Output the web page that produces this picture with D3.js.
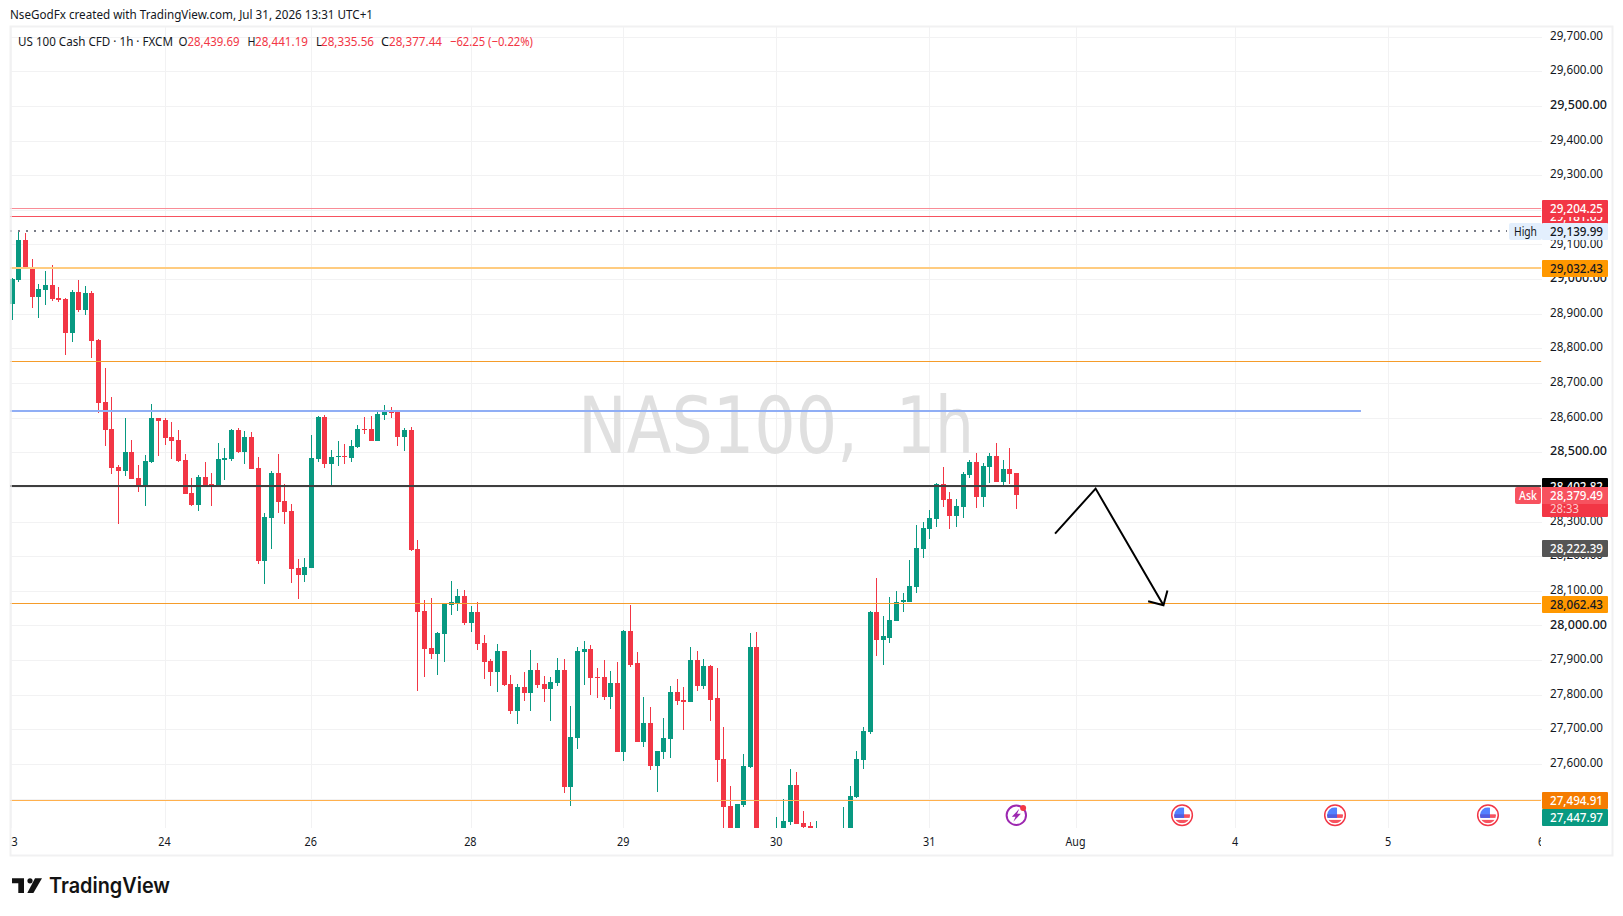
<!DOCTYPE html>
<html>
<head>
<meta charset="utf-8">
<title>NAS100, 1h</title>
<script src="https://cdn.jsdelivr.net/npm/d3@7"></script>
<style>
  html, body { margin: 0; padding: 0; background: #fff; }
  svg { display: block; }
  text { font-family: "Noto Sans", sans-serif; }
</style>
</head>
<body>
<div id="wrapper"></div>
<script>
// hourly bars. Bars under the bottom edge of the plot are estimates
const opens = [28929,28998,29114,29036,28949,28969,28984,28946,28943,28845,28963,28911,28960,28824,28645,28567,28457,28445,28500,28425,28402,28472,28599,28593,28544,28535,28477,28382,28347,28428,28408,28405,28477,28480,28564,28500,28544,28454,28185,28310,28440,28359,28330,28165,28145,28165,28480,28602,28466,28486,28489,28483,28515,28567,28567,28532,28607,28619,28616,28544,28564,28220,28043,27936,27916,27974,28058,28064,28084,28006,28038,27948,27896,27864,27925,27832,27754,27821,27806,27870,27832,27815,27835,27870,27534,27676,27922,27933,27850,27850,27792,27835,27635,27983,27890,27664,27719,27595,27635,27673,27809,27786,27780,27899,27826,27884,27789,27615,27479,27390,27482,27592,27939,27360,27340,27370,27395,27433,27540,27430,27421,27380,27390,27370,27375,27385,27400,27505,27612,27693,28040,27959,27965,28014,28067,28069,28110,28220,28278,28307,28408,28364,28315,28341,28434,28472,28370,28457,28489,28414,28451,28440];
const highs = [29003,29140,29134,29059,28986,29024,29041,28978,28946,28969,28998,28981,28966,28827,28743,28660,28463,28599,28535,28463,28492,28639,28599,28599,28587,28564,28495,28425,28434,28472,28440,28526,28512,28567,28570,28561,28558,28486,28324,28445,28495,28408,28350,28191,28194,28550,28605,28607,28506,28532,28524,28535,28579,28602,28605,28622,28636,28631,28619,28570,28573,28246,28072,28078,27980,28064,28127,28104,28101,28055,28069,27971,27904,27945,27925,27858,27832,27864,27928,27890,27855,27850,27907,27904,27766,27939,27954,27942,27876,27899,27867,27893,27986,28058,27922,27792,27763,27638,27734,27824,27844,27821,27939,27925,27904,27887,27876,27708,27537,27485,27630,27977,27980,27400,27405,27447,27499,27586,27578,27465,27433,27436,27405,27410,27416,27476,27537,27636,27708,28043,28136,28026,28081,28098,28095,28188,28289,28298,28333,28410,28457,28385,28364,28443,28477,28498,28469,28498,28526,28477,28512,28441];
const lows = [28882,28992,29033,28917,28888,28926,28937,28934,28781,28819,28905,28897,28772,28613,28518,28437,28292,28431,28422,28385,28344,28469,28489,28521,28480,28472,28379,28344,28330,28405,28344,28402,28419,28474,28498,28466,28451,28176,28119,28220,28324,28292,28121,28075,28124,28165,28472,28454,28399,28460,28466,28472,28512,28552,28532,28532,28593,28599,28518,28503,28214,27812,27852,27902,27858,27893,28029,28043,28000,27980,27928,27844,27826,27809,27826,27745,27714,27783,27754,27818,27780,27725,27824,27517,27479,27644,27829,27800,27789,27786,27760,27635,27609,27881,27664,27650,27583,27520,27615,27618,27771,27699,27780,27812,27815,27725,27549,27390,27370,27370,27476,27589,27330,27320,27320,27350,27380,27424,27427,27405,27380,27370,27350,27350,27360,27370,27390,27502,27586,27685,27913,27887,27948,28014,28040,28069,28095,28194,28249,28283,28341,28278,28283,28309,28425,28338,28341,28411,28414,28405,28408,28336];
const closes = [29001,29114,29033,28949,28972,28984,28943,28940,28845,28963,28911,28960,28821,28642,28564,28454,28445,28500,28422,28405,28474,28599,28590,28541,28532,28474,28379,28347,28428,28405,28405,28480,28483,28564,28500,28544,28451,28185,28312,28440,28356,28327,28162,28145,28168,28483,28602,28466,28486,28489,28486,28518,28567,28564,28532,28610,28619,28613,28544,28564,28217,28040,27933,27916,27977,28061,28067,28084,28006,28038,27945,27893,27864,27925,27829,27754,27821,27806,27870,27829,27815,27838,27870,27534,27679,27925,27933,27847,27847,27792,27835,27635,27983,27887,27664,27719,27595,27638,27676,27809,27783,27780,27899,27826,27884,27786,27612,27476,27395,27485,27595,27939,27350,27340,27380,27405,27436,27540,27427,27419,27395,27405,27370,27390,27400,27410,27508,27615,27696,28040,27959,27968,28017,28069,28072,28113,28223,28281,28309,28408,28362,28315,28344,28437,28472,28370,28460,28489,28414,28451,28437,28377];

const priceTicks = [29700,29600,29500,29400,29300,29200,29100,29000,28900,28800,28700,28600,28500,28400,28300,28200,28100,28000,27900,27800,27700,27600,27500];
const timeTicks = [0,23,45,69,92,115,138,160,184,207,230];
const timeLabels = ["23","24","26","28","29","30","31","Aug","4","5","6"];

// horizontal levels: price, colour, stroke width, last bar index it reaches
const levelPrices = [29204.25,29181.65,29032.43,28762,28619,28402.82,28062.43,27494.91];
const levelColors = ["#f98c96","#f7525f","#ffcc80","#f59c2a","#90aef5","#3f3f3f","#f59c2a","#ffb04d"];
const levelWidths = [1,1,2,1,2,2,1,1];
const levelEnds = [230,230,230,230,202.9,230,230,230];
const highPrice = 29139.99;

// hand drawn arrow, bar index / price
const arrowX = [156.9,163,173.2];
const arrowY = [28265,28395,28058];
const arrowHeadX = [170.9,173.2,173.8];
const arrowHeadY = [28069.5,28058,28101];

const tagPrices = [29181.65,29204.25,29139.99,29032.43,28402.82,28222.39,28062.43,27494.91,27447.97];
const tagFills = ["#f23645","#f23645","#e3effd","#ff9800","#000000","#555555","#ff9800","#f57c00","#089981"];
const tagInks = ["#fff","#fff","#131722","#131722","#fff","#fff","#131722","#fff","#fff"];

const legendTexts = ["O","28,439.69","H","28,441.19","L","28,335.56","C","28,377.44","\u221262.25 (\u22120.22%)"];
const legendX = [178.5,187.5,247.5,255,316,321,381,389,450];
const legendLen = [9,52,8,53,6,53,8,53,83];
const legendRed = [false,true,false,true,false,true,false,true,true];

const flagBars = [176,199,222]; // calendar markers on the time line

const dimensions = { width: 1623, height: 916, left: 10, right: 1542, top: 27, bottom: 828 };
const green = "#089981";
const red = "#f23645";
const tagRow = p => Math.round(yScale(p)) - 8;

const wrapper = d3.select("#wrapper").append("svg")
  .attr("width", dimensions.width)
  .attr("height", dimensions.height);

const xScale = d3.scaleLinear().domain([0, 230]).range([11.67, 11.67 + 230 * 6.65]);
const yScale = d3.scaleLinear().domain([29000, 28000]).range([279.1, 625.4]);

const defs = wrapper.append("defs");
defs.append("clipPath").attr("id", "plot").append("rect")
  .attr("x", dimensions.left).attr("y", dimensions.top)
  .attr("width", dimensions.right - dimensions.left)
  .attr("height", dimensions.bottom - dimensions.top);
defs.append("clipPath").attr("id", "timeClip").append("rect")
  .attr("x", 11).attr("y", dimensions.bottom)
  .attr("width", 1530).attr("height", 26);

// frame
wrapper.append("rect")
  .attr("x", 10.5).attr("y", 26.5).attr("width", 1602).attr("height", 829)
  .attr("fill", "none").attr("stroke", "#f1f1f2").attr("stroke-width", 2);

// grid
const xGrid = wrapper.append("g")
  .attr("transform", `translate(0,${dimensions.bottom})`)
  .call(d3.axisBottom(xScale).tickValues(timeTicks).tickSize(-(dimensions.bottom - dimensions.top)).tickFormat(""));
const yGrid = wrapper.append("g")
  .attr("transform", `translate(${dimensions.left},0)`)
  .call(d3.axisRight(yScale).tickValues(priceTicks).tickSize(dimensions.right - dimensions.left).tickFormat(""));
[xGrid, yGrid].forEach(g => {
  g.select(".domain").remove();
  g.selectAll("line").attr("stroke", "#f2f2f3").attr("shape-rendering", "crispEdges");
});
xGrid.selectAll(".tick").filter(d => d === 0 || d === 230).remove();

// watermark, in two pieces because of the wide gap after the comma
const watermarkTexts = ["NAS100,", "1h"];
const watermarkX = [578, 896];
const watermarkLen = [280, 78];
wrapper.selectAll(".watermark")
  .data(watermarkTexts)
  .enter().append("text")
  .attr("class", "watermark")
  .attr("x", (d, i) => watermarkX[i])
  .attr("y", 453)
  .attr("font-size", 78)
  .attr("textLength", (d, i) => watermarkLen[i])
  .attr("lengthAdjust", "spacingAndGlyphs")
  .attr("fill", "#e0e0e0")
  .style("font-family", "'DejaVu Sans', sans-serif")
  .text(d => d);

const plot = wrapper.append("g").attr("clip-path", "url(#plot)");

// candles
const bars = d3.range(opens.length);
plot.selectAll(".wick")
  .data(bars)
  .enter().append("rect")
  .attr("class", "wick")
  .attr("x", i => Math.round(xScale(i)))
  .attr("y", i => yScale(highs[i]))
  .attr("width", 1)
  .attr("height", i => yScale(lows[i]) - yScale(highs[i]))
  .attr("fill", i => closes[i] >= opens[i] ? green : red)
  .attr("shape-rendering", "crispEdges");
plot.selectAll(".body")
  .data(bars)
  .enter().append("rect")
  .attr("class", "body")
  .attr("x", i => Math.round(xScale(i)) - 2)
  .attr("y", i => yScale(Math.max(opens[i], closes[i])))
  .attr("width", 5)
  .attr("height", i => Math.max(1, Math.abs(yScale(opens[i]) - yScale(closes[i]))))
  .attr("fill", i => closes[i] >= opens[i] ? green : red)
  .attr("shape-rendering", "crispEdges");

// levels: odd widths sit on a pixel row, even ones between rows
const levelRow = (d, i) => levelWidths[i] === 2 ? Math.round(yScale(d)) : Math.floor(yScale(d)) + 0.5;
plot.selectAll(".level")
  .data(levelPrices)
  .enter().append("line")
  .attr("class", "level")
  .attr("x1", dimensions.left)
  .attr("x2", (d, i) => xScale(levelEnds[i]))
  .attr("y1", levelRow)
  .attr("y2", levelRow)
  .attr("stroke", (d, i) => levelColors[i])
  .attr("stroke-width", (d, i) => levelWidths[i]);

// session high, dotted
plot.append("line")
  .attr("x1", dimensions.left).attr("x2", 1507)
  .attr("y1", Math.round(yScale(highPrice))).attr("y2", Math.round(yScale(highPrice)))
  .attr("stroke", "#787b86")
  .attr("stroke-width", 2)
  .attr("stroke-dasharray", "2 6");

// arrow
const arrowLine = d3.line().x(d => xScale(d[0])).y(d => yScale(d[1]));
plot.append("path")
  .attr("d", arrowLine(d3.zip(arrowX, arrowY)))
  .attr("fill", "none").attr("stroke", "#000").attr("stroke-width", 2);
plot.append("path")
  .attr("d", arrowLine(d3.zip(arrowHeadX, arrowHeadY)))
  .attr("fill", "none").attr("stroke", "#000").attr("stroke-width", 2);

// left edge band sits above the first candle
wrapper.append("rect")
  .attr("x", 10).attr("y", 27).attr("width", 2).attr("height", 801)
  .attr("fill", "#f1f1f2").attr("opacity", 0.7);

// event icons
const iconY = 815.3;
const bolt = wrapper.append("g").attr("transform", `translate(${xScale(151) + 0.5},${iconY})`);
bolt.append("circle").attr("r", 9.7).attr("fill", "#fff").attr("stroke", "#9c27b0").attr("stroke-width", 2);
bolt.append("path").attr("d", "M3,-6.5 L-4.5,1.5 L-0.8,1.5 L-3,6.5 L4.5,-1.5 L0.8,-1.5 Z").attr("fill", "#9c27b0");
bolt.append("circle").attr("cx", 6.8).attr("cy", -7.2).attr("r", 3).attr("fill", "#f23645");

flagBars.forEach(b => {
  const g = wrapper.append("g").attr("transform", `translate(${xScale(b)},${iconY})`);
  const id = "flag" + b;
  g.append("clipPath").attr("id", id).append("circle").attr("r", 8);
  g.append("circle").attr("r", 10.3).attr("fill", "#fff").attr("stroke", "#f23645").attr("stroke-width", 1.5);
  const f = g.append("g").attr("clip-path", `url(#${id})`);
  f.append("rect").attr("x", -8).attr("y", -8).attr("width", 16).attr("height", 16).attr("fill", "#fff");
  f.append("rect").attr("x", -8).attr("y", -1).attr("width", 16).attr("height", 3.6).attr("fill", "#f7525f");
  f.append("rect").attr("x", -8).attr("y", 4.6).attr("width", 16).attr("height", 3.4).attr("fill", "#f7525f");
  f.append("rect").attr("x", -8).attr("y", -8).attr("width", 10).attr("height", 10.7).attr("fill", "#2962ff").attr("opacity", 0.8);
});

// price scale, the round 500s are a little heavier on the reference
const yAxis = wrapper.append("g")
  .attr("transform", `translate(${dimensions.right},0)`)
  .call(d3.axisRight(yScale).tickValues(priceTicks).tickSize(0).tickPadding(8).tickFormat(d3.format(",.2f")));
yAxis.select(".domain").remove();
yAxis.selectAll("text")
  .attr("font-size", 13)
  .attr("fill", "#131722")
  .attr("dy", "0.2em")
  .attr("textLength", d => d % 500 === 0 ? 57 : 53)
  .attr("font-weight", d => d % 500 === 0 ? 500 : 400)
  .attr("lengthAdjust", "spacingAndGlyphs");

// time scale
const xAxis = wrapper.append("g")
  .attr("clip-path", "url(#timeClip)")
  .append("g")
  .attr("transform", `translate(-0.7,${dimensions.bottom + 1})`)
  .call(d3.axisBottom(xScale).tickValues(timeTicks).tickSize(0).tickPadding(8).tickFormat((d, i) => timeLabels[i]));
xAxis.select(".domain").remove();
xAxis.selectAll("text")
  .attr("font-size", 13)
  .attr("fill", "#131722")
  .attr("textLength", (d, i) => timeLabels[i] === "Aug" ? 20 : timeLabels[i].length * 6.2)
  .attr("lengthAdjust", "spacingAndGlyphs");

// price tags
const tags = wrapper.selectAll(".tag")
  .data(tagPrices)
  .enter().append("g")
  .attr("class", "tag")
  .attr("transform", d => `translate(${dimensions.right},${tagRow(d)})`);
tags.append("rect")
  .attr("width", 66).attr("height", 17).attr("rx", 1)
  .attr("fill", (d, i) => tagFills[i]);
tags.append("text")
  .attr("x", 8).attr("y", 13)
  .attr("font-size", 13)
  .attr("font-weight", 500)
  .attr("textLength", 53)
  .attr("lengthAdjust", "spacingAndGlyphs")
  .attr("fill", (d, i) => tagInks[i])
  .text(d3.format(",.2f"));

// High badge
wrapper.append("rect")
  .attr("x", 1509).attr("y", tagRow(highPrice))
  .attr("width", 33).attr("height", 17).attr("rx", 2).attr("fill", "#e3effd");
wrapper.append("text")
  .attr("x", 1514).attr("y", tagRow(highPrice) + 13)
  .attr("font-size", 13).attr("textLength", 23).attr("lengthAdjust", "spacingAndGlyphs")
  .attr("fill", "#131722").text("High");

// ask badge + countdown
const askPrice = 28379.49;
const askY = tagRow(askPrice) + 1;
wrapper.append("rect").attr("x", 1515).attr("y", askY).attr("width", 26).attr("height", 17).attr("rx", 2).attr("fill", "#f7525f");
wrapper.append("text").attr("x", 1519).attr("y", askY + 13).attr("font-size", 13)
  .attr("font-weight", 500).attr("textLength", 18).attr("lengthAdjust", "spacingAndGlyphs").attr("fill", "#fff").text("Ask");
wrapper.append("rect").attr("x", dimensions.right).attr("y", askY).attr("width", 66).attr("height", 30).attr("rx", 1).attr("fill", "#f23645");
wrapper.append("rect").attr("x", dimensions.right).attr("y", askY).attr("width", 66).attr("height", 17).attr("fill", "#f7525f");
wrapper.append("text").attr("x", 1550).attr("y", askY + 13).attr("font-size", 13).attr("font-weight", 500)
  .attr("textLength", 53).attr("lengthAdjust", "spacingAndGlyphs").attr("fill", "#fff")
  .text(d3.format(",.2f")(askPrice));
wrapper.append("text").attr("x", 1550).attr("y", askY + 26).attr("font-size", 13)
  .attr("textLength", 29).attr("lengthAdjust", "spacingAndGlyphs").attr("fill", "#fccbcd").text("28:33");

// header + legend
wrapper.append("text").attr("x", 10).attr("y", 19).attr("font-size", 13)
  .attr("textLength", 363).attr("lengthAdjust", "spacingAndGlyphs").attr("fill", "#131722")
  .text("NseGodFx created with TradingView.com, Jul 31, 2026 13:31 UTC+1");
wrapper.append("text").attr("x", 18).attr("y", 46).attr("font-size", 13)
  .attr("textLength", 155).attr("lengthAdjust", "spacingAndGlyphs").attr("fill", "#131722")
  .text("US 100 Cash CFD \u00b7 1h \u00b7 FXCM");
wrapper.selectAll(".legend")
  .data(legendTexts)
  .enter().append("text")
  .attr("class", "legend")
  .attr("x", (d, i) => legendX[i])
  .attr("y", 46)
  .attr("font-size", 13)
  .attr("textLength", (d, i) => legendLen[i])
  .attr("lengthAdjust", "spacingAndGlyphs")
  .attr("fill", (d, i) => legendRed[i] ? red : "#131722")
  .text(d => d);

// TradingView logo
const logo = wrapper.append("g").attr("fill", "#131313");
logo.append("path").attr("d", "M12,878.3 H24 V893 H18.3 V883.3 H12 Z");
logo.append("circle").attr("cx", 30).attr("cy", 880.8).attr("r", 2.6);
logo.append("path").attr("d", "M35,878.3 H42 L33.4,893 H27.3 Z");
wrapper.append("text")
  .attr("x", 49).attr("y", 893)
  .attr("font-size", 21)
  .attr("font-weight", 600)
  .attr("textLength", 121)
  .attr("lengthAdjust", "spacingAndGlyphs")
  .attr("fill", "#131313")
  .style("font-family", "Inter, sans-serif")
  .text("TradingView");
</script>
</body>
</html>
